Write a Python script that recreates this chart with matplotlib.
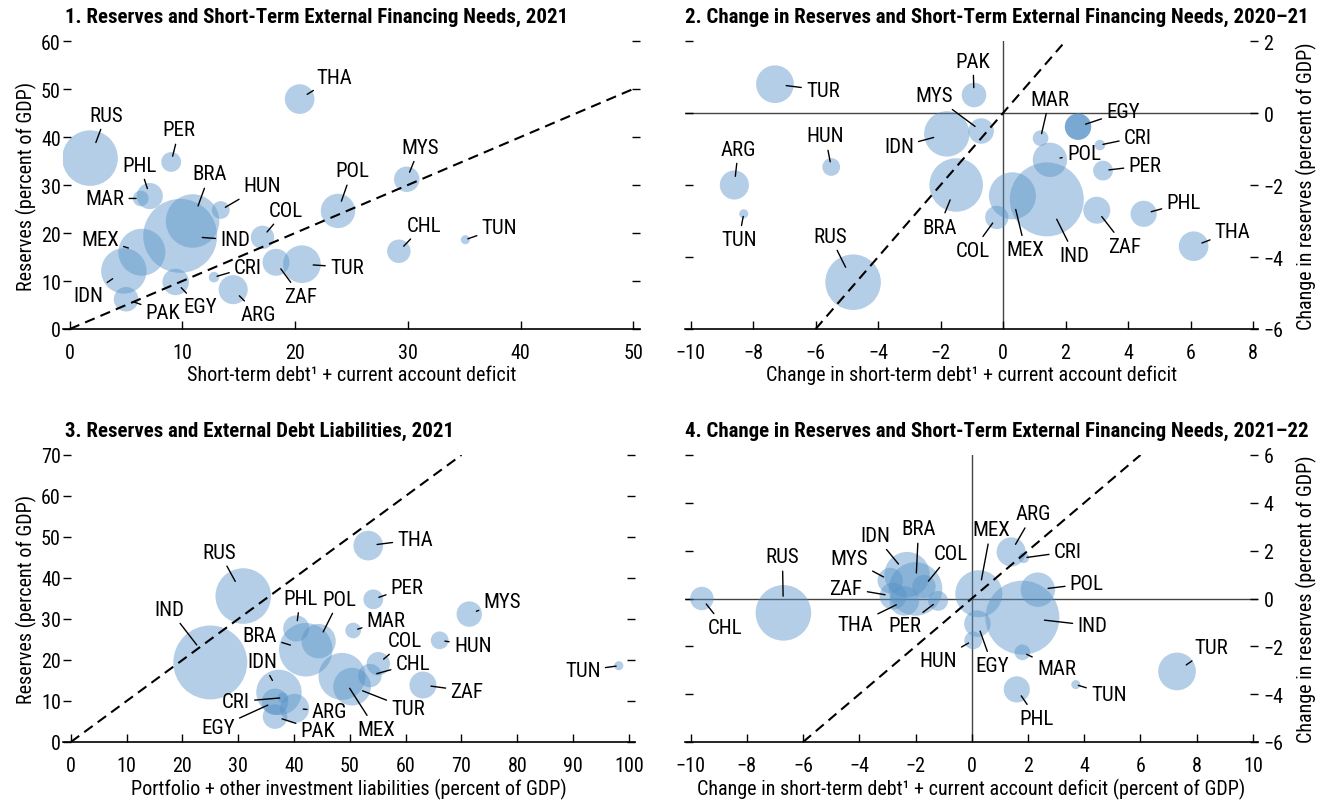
import numpy as np
import matplotlib.pyplot as plt

plt.rcParams['font.family'] = ['Roboto Condensed', 'Liberation Sans', 'DejaVu Sans']

# --- data ---------------------------------------------------------------
countries = ['ARG', 'BRA', 'CHL', 'COL', 'CRI', 'EGY', 'HUN', 'IDN', 'IND', 'MAR', 'MEX',
             'MYS', 'PAK', 'PER', 'PHL', 'POL', 'RUS', 'THA', 'TUN', 'TUR', 'ZAF']

# bubble size: nominal GDP, billions of US dollars
gdp = [487, 1650, 317, 314, 64, 404, 182, 1186, 3150, 142, 1273,
       373, 348, 226, 394, 679, 1779, 506, 47, 819, 419]

# reserves, percent of GDP, 2021 (panels 1 and 3)
reserves_2021 = [8.2, 22.5, 16.2, 19.1, 10.8, 9.8, 24.8, 12.1, 19.4, 27.2, 16.0,
                 31.2, 6.2, 34.8, 27.7, 24.6, 35.6, 47.9, 18.6, 13.5, 13.9]

# short-term debt + current account deficit, 2021 (panel 1)
stefn_2021 = [14.5, 10.9, 29.2, 17.1, 12.8, 9.4, 13.4, 4.8, 9.8, 6.3, 6.4,
              29.9, 5.0, 9.0, 7.1, 23.8, 1.8, 20.4, 35.1, 20.6, 18.3]

# portfolio + other investment liabilities, 2021 (panel 3)
liabilities_2021 = [40.1, 42.1, 53.6, 55.1, 38.0, 36.6, 66.1, 37.3, 25.0, 50.6, 48.6,
                    71.4, 36.6, 54.2, 40.4, 44.4, 30.9, 53.3, 98.2, 50.4, 63.1]

# changes 2020-21 (panel 2)
d_stefn_2021 = [-8.6, -1.5, np.nan, -0.2, 3.1, 2.4, -5.5, -1.8, 1.4, 1.2, 0.3,
                -0.7, -0.93, 3.2, 4.5, 1.5, -4.8, 6.1, -8.3, -7.3, 3.0]
d_reserves_2021 = [-2.0, -2.0, np.nan, -2.9, -0.89, -0.38, -1.5, -0.58, -2.4, -0.7, -2.3,
                   -0.5, 0.5, -1.6, -2.8, -1.3, -4.7, -3.7, -2.8, 0.8, -2.7]

# changes 2021-22 (panel 4)
d_stefn_2022 = [1.4, -2.0, -9.6, -1.7, 1.85, 0.2, 0.05, -2.3, 1.8, 1.8, 0.25,
                -2.9, np.nan, -1.2, 1.6, 2.35, -6.7, -2.4, 3.7, 7.3, -2.8]
d_reserves_2022 = [1.95, 0.4, 0.0, 0.5, 1.7, -1.05, -1.75, 1.0, -0.8, -2.25, 0.2,
                   0.75, np.nan, -0.1, -3.8, 0.37, -0.6, -0.1, -3.6, -3.05, 0.1]

titles = ['1. Reserves and Short-Term External Financing Needs, 2021',
          '2. Change in Reserves and Short-Term External Financing Needs, 2020\u201321',
          '3. Reserves and External Debt Liabilities, 2021',
          '4. Change in Reserves and Short-Term External Financing Needs, 2021\u201322']

# label offsets (pixels, right / down) from the bubble centre
lab1 = {'RUS': (16, -43), 'THA': (35, -22), 'PER': (8, -32), 'PHL': (-10, -31), 'MAR': (-36, 0),
        'BRA': (17, -47), 'HUN': (41, -24), 'COL': (23, -27), 'IND': (55, 4), 'MEX': (-42, -13),
        'IDN': (-36, 25), 'PAK': (37, 13), 'EGY': (24, 25), 'CRI': (34, -10), 'ARG': (25, 25),
        'ZAF': (25, 34), 'TUR': (45, 3), 'POL': (14, -40), 'MYS': (13, -32), 'CHL': (25, -26),
        'TUN': (34, -12)}
lab2 = {'TUR': (48, 6), 'PAK': (-1, -34), 'MYS': (-47, -35), 'IDN': (-48, 13), 'HUN': (-6, -31),
        'ARG': (4, -36), 'TUN': (-5, 26), 'BRA': (-17, 42), 'RUS': (-23, -46), 'COL': (-24, 33),
        'MEX': (13, 54), 'IND': (28, 56), 'MAR': (9, -39), 'EGY': (45, -15), 'CRI': (38, -8),
        'POL': (34, -6), 'PER': (42, -5), 'ZAF': (28, 36), 'PHL': (40, -11), 'THA': (39, -15)}
lab3 = {'RUS': (-24, -44), 'IND': (-41, -53), 'PHL': (4, -30), 'POL': (21, -42), 'BRA': (-46, -14),
        'IDN': (-17, -31), 'CRI': (-47, 4), 'EGY': (-57, 26), 'PAK': (43, 14), 'ARG': (35, 3),
        'MEX': (34, 53), 'TUR': (56, 22), 'CHL': (43, -12), 'COL': (27, -23), 'MAR': (33, -10),
        'PER': (34, -12), 'THA': (47, -6), 'MYS': (33, -13), 'HUN': (33, 5), 'ZAF': (44, 6),
        'TUN': (-36, 5)}
lab4 = {'CHL': (23, 29), 'RUS': (-1, -56), 'MYS': (-41, -22), 'IDN': (-32, -39), 'BRA': (3, -60),
        'COL': (27, -33), 'ZAF': (-47, -8), 'THA': (-49, 24), 'PER': (-33, 25), 'HUN': (-35, 20),
        'EGY': (15, 42), 'MEX': (12, -64), 'ARG': (22, -38), 'CRI': (44, -6), 'POL': (49, -6),
        'IND': (70, 8), 'MAR': (34, 16), 'PHL': (20, 29), 'TUN': (33, 10), 'TUR': (34, -24)}

W, H = 1327, 804
BLUE = '#5893C8'
FS_LAB = 15     # country labels
FS_TICK = 14.5
FS_AX = 14.5
FS_TITLE = 15


def add_axes_px(fig, left, top, right, bottom):
    return fig.add_axes([left / W, 1 - bottom / H, (right - left) / W, (bottom - top) / H])


def draw_panel(ax, xs, ys, labels, dark=()):
    xs = np.asarray(xs, float)
    ys = np.asarray(ys, float)
    sizes = 0.9 * np.asarray(gdp, float)
    for c, x, y, s in zip(countries, xs, ys, sizes):
        if np.isnan(x):
            continue
        a = 0.8 if c in dark else 0.45
        ax.scatter(x, y, s=s, color=BLUE, alpha=a, edgecolors='none', zorder=2)
        dx, dy = labels[c]
        r = np.sqrt(s) / 2
        ax.annotate(c, (x, y), xytext=(dx * 0.72, -dy * 0.72), textcoords='offset points',
                    ha='center', va='center', fontsize=FS_LAB, zorder=5,
                    arrowprops=dict(arrowstyle='-', color='black', lw=1,
                                    shrinkA=1.5, shrinkB=0.6 * r))


def style_axes(ax, right_labels=False):
    for side in ['top', 'left', 'right']:
        ax.spines[side].set_visible(False)
    ax.spines['bottom'].set_linewidth(1.2)
    ax.tick_params(axis='x', direction='in', length=6, width=1, labelsize=FS_TICK, pad=10)
    ax.tick_params(axis='y', direction='in', length=6, width=1, labelsize=FS_TICK,
                   left=True, right=True, labelleft=not right_labels,
                   labelright=right_labels, pad=1.5)


fig = plt.figure(figsize=(W / 100, H / 100), dpi=100)

# panel 1
ax1 = add_axes_px(fig, 63, 42, 640, 330)
ax1.set_xlim(-0.6, 50.6)
ax1.set_ylim(0, 60)
ax1.plot([0, 50], [0, 50], ls=(0, (5, 3)), color='black', lw=1.5, zorder=3)
draw_panel(ax1, stefn_2021, reserves_2021, lab1)
ax1.set_xticks(np.arange(0, 51, 10))
ax1.set_yticks(np.arange(0, 61, 10))
style_axes(ax1)
ax1.set_xlabel('Short-term debt\u00b9 + current account deficit', fontsize=FS_AX, labelpad=2)
ax1.set_ylabel('Reserves (percent of GDP)', fontsize=FS_AX, labelpad=3)

# panel 2
ax2 = add_axes_px(fig, 685, 42, 1258, 330)
ax2.set_xlim(-10.18, 8.16)
ax2.set_ylim(-6, 2)
ax2.axhline(0, color='#444444', lw=1, zorder=1)
ax2.axvline(0, color='#444444', lw=1, zorder=1)
ax2.plot([-6, 1.9], [-6, 1.9], ls=(0, (5, 3)), color='black', lw=1.5, zorder=3)
draw_panel(ax2, d_stefn_2021, d_reserves_2021, lab2, dark=('EGY',))
ax2.set_xticks(np.arange(-10, 9, 2))
ax2.set_yticks(np.arange(-6, 3, 2))
style_axes(ax2, right_labels=True)
ax2.tick_params(axis='y', pad=4)
ax2.yaxis.set_label_position('right')
ax2.set_xlabel('Change in short-term debt\u00b9 + current account deficit', fontsize=FS_AX, labelpad=2)
ax2.set_ylabel('Change in reserves (percent of GDP)', fontsize=FS_AX, labelpad=9)

# panel 3
ax3 = add_axes_px(fig, 63, 456, 635, 743)
ax3.set_xlim(-1.4, 101.1)
ax3.set_ylim(0, 70)
ax3.plot([0, 70], [0, 70], ls=(0, (5, 3)), color='black', lw=1.5, zorder=3)
draw_panel(ax3, liabilities_2021, reserves_2021, lab3)
ax3.set_xticks(np.arange(0, 101, 10))
ax3.set_yticks(np.arange(0, 71, 10))
style_axes(ax3)
ax3.set_xlabel('Portfolio + other investment liabilities (percent of GDP)', fontsize=FS_AX, labelpad=2)
ax3.set_ylabel('Reserves (percent of GDP)', fontsize=FS_AX, labelpad=3)

# panel 4
ax4 = add_axes_px(fig, 685, 456, 1258, 743)
ax4.set_xlim(-10.2, 10.18)
ax4.set_ylim(-6, 6)
ax4.axhline(0, color='#444444', lw=1, zorder=1)
ax4.axvline(0, color='#444444', lw=1, zorder=1)
ax4.plot([-6, 6], [-6, 6], ls=(0, (5, 3)), color='black', lw=1.5, zorder=3)
draw_panel(ax4, d_stefn_2022, d_reserves_2022, lab4)
ax4.set_xticks(np.arange(-10, 11, 2))
ax4.set_yticks(np.arange(-6, 7, 2))
style_axes(ax4, right_labels=True)
ax4.tick_params(axis='y', pad=4)
ax4.yaxis.set_label_position('right')
ax4.set_xlabel('Change in short-term debt\u00b9 + current account deficit (percent of GDP)',
               fontsize=FS_AX, labelpad=2)
ax4.set_ylabel('Change in reserves (percent of GDP)', fontsize=FS_AX, labelpad=9)

# panel titles
for (x, y), t in zip([(65, 17), (685, 17), (65, 431), (685, 431)], titles):
    fig.text(x / W, 1 - y / H, t, fontsize=FS_TITLE, fontweight='bold', ha='left', va='center')

fig.savefig('out.png', dpi=100)
